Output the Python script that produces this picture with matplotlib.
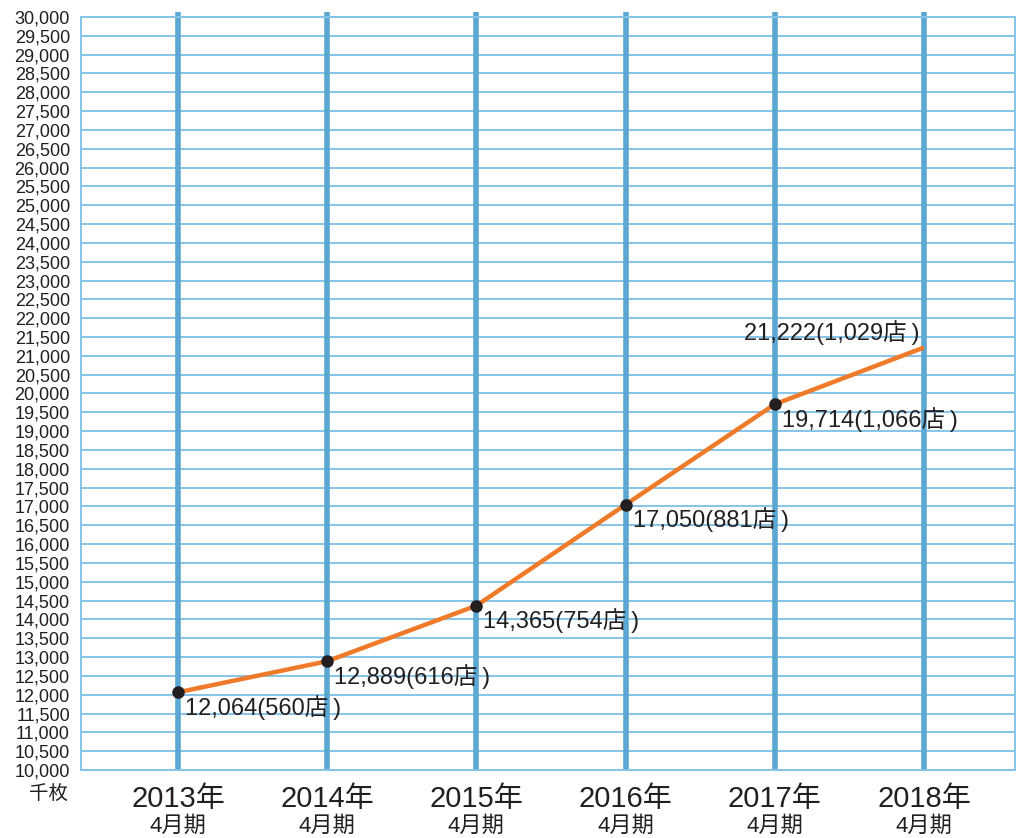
import matplotlib
matplotlib.use("Agg")
import matplotlib.pyplot as plt

plt.rcParams['font.family'] = ['Liberation Sans', 'Noto Sans CJK JP']

# データ
years = ["2013年", "2014年", "2015年", "2016年", "2017年", "2018年"]
period = "4月期"
sales = [12064, 12889, 14365, 17050, 19714, 21222]
stores = [560, 616, 754, 881, 1066, 1029]

VLINE = "#5BA7D3"
HLINE = "#86C3E9"
ORANGE = "#EF7A29"
TEXT = "#231F20"

fig = plt.figure(figsize=(10.24, 8.38), dpi=100)
ax = fig.add_axes([81 / 1024, 1 - 770 / 838, (1015 - 81) / 1024, (770 - 17) / 838])

x = list(range(len(years)))
ax.set_xlim(-0.65, 5.61)
ax.set_ylim(10000, 30000)

# 横罫線
yt = list(range(10000, 30001, 500))
for v in yt:
    ax.axhline(v, color=HLINE, lw=1.4, zorder=1, clip_on=False)
for s in ax.spines.values():
    s.set_color(HLINE)
    s.set_linewidth(1.4)

# 年ごとの縦線
ax.vlines(x, 10000, 30120, color=VLINE, lw=4.0, zorder=2, clip_on=False)

# 折れ線
ax.plot(x, sales, color=ORANGE, lw=3.2, zorder=3, solid_capstyle="butt")
ax.plot(x[:-1], sales[:-1], "o", color=TEXT, ms=8, zorder=4)

# 数値ラベル
for i, (v, n) in enumerate(zip(sales, stores)):
    lab = f"{v:,}({n:,}店\u2009)"
    if i == len(sales) - 1:
        ax.annotate(lab, (i, v), xytext=(-3, 11), textcoords="offset points",
                    ha="right", va="center", fontsize=17, color=TEXT, zorder=5)
    else:
        ax.annotate(lab, (i, v), xytext=(5, -11), textcoords="offset points",
                    ha="left", va="center", fontsize=17, color=TEXT, zorder=5)

ax.set_yticks(yt)
ax.set_yticklabels([f"{v:,}" for v in yt], fontsize=13, color=TEXT)
ax.tick_params(axis="y", length=0, pad=8)
ax.set_xticks([])

# 横軸ラベル
for i, yl in enumerate(years):
    ax.text(i, -0.02, yl, transform=ax.get_xaxis_transform(), ha="center", va="top",
            fontsize=21, color=TEXT)
    ax.text(i, -0.061, period, transform=ax.get_xaxis_transform(), ha="center", va="top",
            fontsize=16, color=TEXT)

fig.text(68 / 1024, 1 - 795 / 838, "千枚", ha="right", va="center", fontsize=14, color=TEXT)

fig.savefig("out.png", dpi=100)
